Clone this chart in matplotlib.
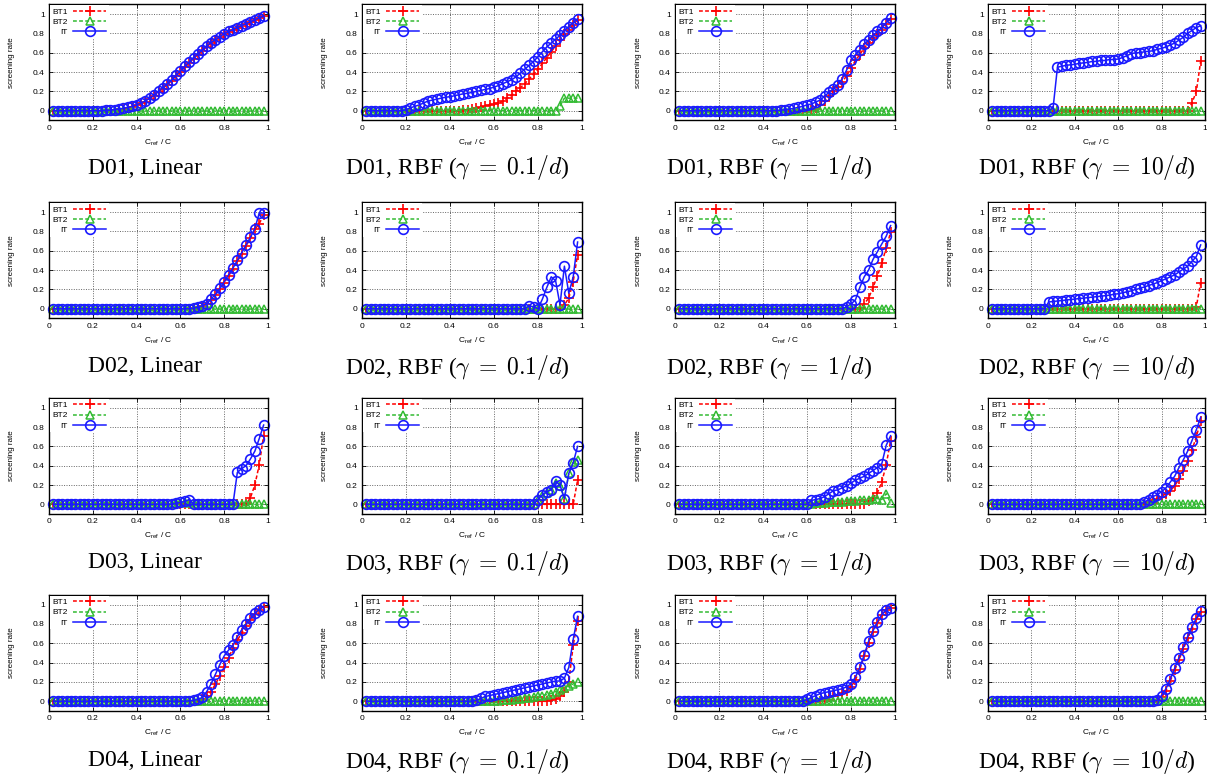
import numpy as np
import matplotlib
matplotlib.use("Agg")
from matplotlib import pyplot as plt

# C_ref / C sample points
c_ratio = [0.02, 0.04, 0.06, 0.08, 0.10, 0.12, 0.14, 0.16, 0.18, 0.20,
           0.22, 0.24, 0.26, 0.28, 0.30, 0.32, 0.34, 0.36, 0.38, 0.40,
           0.42, 0.44, 0.46, 0.48, 0.50, 0.52, 0.54, 0.56, 0.58, 0.60,
           0.62, 0.64, 0.66, 0.68, 0.70, 0.72, 0.74, 0.76, 0.78, 0.80,
           0.82, 0.84, 0.86, 0.88, 0.90, 0.92, 0.94, 0.96, 0.98]

datasets = ["D01", "D02", "D03", "D04"]
kernels = ["Linear", r"RBF ($\gamma\;=\;0.1/d$)", r"RBF ($\gamma\;=\;1/d$)", r"RBF ($\gamma\;=\;10/d$)"]
methods = ["BT1", "BT2", "IT"]

# screening rates: only the tail up to x=0.98 is listed, earlier points are 0
d01_lin_bt1 = [0.002, 0.005, 0.01, 0.015, 0.022, 0.03, 0.04, 0.055, 0.075, 0.095, 0.125, 0.155, 0.19,
               0.23, 0.27, 0.31, 0.36, 0.40, 0.45, 0.49, 0.54, 0.58, 0.62, 0.66, 0.70, 0.73, 0.76,
               0.79, 0.815, 0.835, 0.855, 0.875, 0.895, 0.915, 0.935, 0.955, 0.975]
d01_lin_bt2 = []
d01_lin_it = [0.003, 0.007, 0.012, 0.018, 0.025, 0.035, 0.045, 0.06, 0.08, 0.10, 0.13, 0.16, 0.20,
              0.24, 0.28, 0.32, 0.37, 0.41, 0.46, 0.50, 0.55, 0.59, 0.63, 0.67, 0.705, 0.735, 0.765,
              0.795, 0.82, 0.84, 0.86, 0.88, 0.90, 0.92, 0.94, 0.96, 0.98]

d01_rbf01_bt1 = [0.005, 0.01, 0.02, 0.025, 0.035, 0.045, 0.06, 0.07, 0.08, 0.10, 0.13, 0.16, 0.20, 0.24,
                 0.28, 0.33, 0.38, 0.43, 0.49, 0.55, 0.61, 0.67, 0.73, 0.79, 0.84, 0.89, 0.94]
d01_rbf01_bt2 = [0.0, 0.05, 0.13, 0.13, 0.13, 0.13]
d01_rbf01_it = [0.0, 0.01, 0.03, 0.045, 0.06, 0.08, 0.10, 0.11, 0.12, 0.13, 0.14, 0.145, 0.155, 0.165,
                0.175, 0.18, 0.19, 0.20, 0.21, 0.22, 0.23, 0.245, 0.26, 0.28, 0.30, 0.32, 0.35, 0.39,
                0.43, 0.47, 0.51, 0.56, 0.61, 0.66, 0.70, 0.74, 0.78, 0.83, 0.87, 0.91, 0.95]

d01_rbf1_bt1 = [0.0, 0.005, 0.012, 0.03, 0.06, 0.10, 0.15, 0.20, 0.25, 0.30, 0.36, 0.44, 0.52, 0.58,
                0.65, 0.70, 0.75, 0.79, 0.84, 0.90, 0.95]
d01_rbf1_bt2 = []
d01_rbf1_it = [0.002, 0.006, 0.01, 0.016, 0.025, 0.035, 0.045, 0.06, 0.07, 0.09, 0.11, 0.15, 0.19, 0.23,
               0.27, 0.33, 0.42, 0.52, 0.58, 0.63, 0.69, 0.73, 0.78, 0.82, 0.86, 0.91, 0.96]

d01_rbf10_bt1 = [0.0, 0.08, 0.2, 0.51]
d01_rbf10_bt2 = []
d01_rbf10_it = [0.0, 0.03, 0.45, 0.46, 0.47, 0.475, 0.48, 0.49, 0.495, 0.50, 0.51, 0.51, 0.52, 0.52,
                0.53, 0.53, 0.535, 0.55, 0.57, 0.59, 0.60, 0.60, 0.61, 0.615, 0.62, 0.635, 0.645, 0.66,
                0.68, 0.70, 0.73, 0.76, 0.80, 0.83, 0.86, 0.88]

d02_lin_bt1 = [0.0, 0.005, 0.015, 0.03, 0.05, 0.09, 0.14, 0.20, 0.27, 0.34, 0.41, 0.49, 0.57, 0.65,
               0.73, 0.82, 0.88, 0.97]
d02_lin_bt2 = []
d02_lin_it = [0.0, 0.005, 0.015, 0.03, 0.05, 0.10, 0.15, 0.21, 0.28, 0.35, 0.42, 0.50, 0.58, 0.66,
              0.74, 0.83, 0.99, 0.99]

d02_rbf01_bt1 = [0.0, 0.04, 0.11, 0.28, 0.56]
d02_rbf01_bt2 = []
d02_rbf01_it = [0.0, 0.03, 0.02, 0.0, 0.10, 0.22, 0.33, 0.29, 0.04, 0.44, 0.16, 0.33, 0.69]

d02_rbf1_bt1 = [0.0, 0.01, 0.05, 0.11, 0.22, 0.34, 0.47, 0.63, 0.79]
d02_rbf1_bt2 = []
d02_rbf1_it = [0.0, 0.02, 0.05, 0.09, 0.22, 0.33, 0.40, 0.51, 0.59, 0.67, 0.75, 0.86]

d02_rbf10_bt1 = [0.0, 0.02, 0.27]
d02_rbf10_bt2 = []
d02_rbf10_it = [0.0, 0.07, 0.075, 0.08, 0.085, 0.09, 0.095, 0.10, 0.105, 0.11, 0.115, 0.12, 0.125,
                0.13, 0.135, 0.14, 0.15, 0.155, 0.165, 0.175, 0.185, 0.20, 0.21, 0.225, 0.24, 0.255,
                0.27, 0.29, 0.31, 0.33, 0.35, 0.38, 0.41, 0.44, 0.49, 0.54, 0.66]

d03_lin_bt1 = [0.0, 0.07, 0.20, 0.41, 0.71]
d03_lin_bt2 = [0.0, 0.01, 0.015, 0.02, 0.01, 0.0, 0.0, 0.0, 0.0, 0.0, 0.0, 0.0, 0.0, 0.0, 0.0,
               0.0, 0.0, 0.0, 0.0, 0.0, 0.0, 0.0]
d03_lin_it = [0.0, 0.01, 0.02, 0.03, 0.05, 0.0, 0.0, 0.0, 0.0, 0.0, 0.0, 0.0, 0.0, 0.0, 0.0,
              0.33, 0.37, 0.40, 0.47, 0.55, 0.68, 0.82]

d03_rbf01_bt1 = [0.0, 0.25]
d03_rbf01_bt2 = [0.0, 0.04, 0.09, 0.12, 0.15, 0.22, 0.19, 0.06, 0.32, 0.44, 0.46]
d03_rbf01_it = [0.0, 0.05, 0.10, 0.13, 0.15, 0.24, 0.20, 0.06, 0.32, 0.43, 0.60]

d03_rbf1_bt1 = [0.0, 0.03, 0.07, 0.12, 0.23, 0.41, 0.66]
d03_rbf1_bt2 = [0.005, 0.01, 0.01, 0.015, 0.02, 0.02, 0.02, 0.025, 0.03, 0.03, 0.035, 0.04, 0.04,
                0.05, 0.055, 0.06, 0.05, 0.11, 0.01]
d03_rbf1_it = [0.0, 0.04, 0.05, 0.06, 0.08, 0.11, 0.14, 0.15, 0.17, 0.19, 0.22, 0.25, 0.27, 0.29,
               0.32, 0.35, 0.38, 0.42, 0.61, 0.71]

d03_rbf10_bt1 = [0.0, 0.02, 0.04, 0.06, 0.08, 0.11, 0.14, 0.19, 0.26, 0.35, 0.45, 0.56, 0.70, 0.86]
d03_rbf10_bt2 = []
d03_rbf10_it = [0.0, 0.02, 0.05, 0.08, 0.10, 0.13, 0.17, 0.23, 0.29, 0.38, 0.46, 0.55, 0.66, 0.77, 0.90]

d04_lin_bt1 = [0.0, 0.02, 0.05, 0.10, 0.18, 0.26, 0.36, 0.45, 0.55, 0.63, 0.71, 0.78, 0.84, 0.90,
               0.95, 0.98]
d04_lin_bt2 = []
d04_lin_it = [0.0, 0.005, 0.01, 0.02, 0.04, 0.10, 0.18, 0.28, 0.38, 0.47, 0.53, 0.58, 0.67, 0.74,
              0.80, 0.86, 0.91, 0.95, 0.98]

d04_rbf01_bt1 = [0.0, 0.01, 0.02, 0.05, 0.10, 0.20, 0.58, 0.83]
d04_rbf01_bt2 = [0.0, 0.005, 0.01, 0.01, 0.015, 0.02, 0.025, 0.03, 0.035, 0.04, 0.05, 0.06, 0.07,
                 0.08, 0.10, 0.12, 0.14, 0.16, 0.18, 0.20]
d04_rbf01_it = [0.0, 0.01, 0.03, 0.05, 0.06, 0.07, 0.08, 0.09, 0.10, 0.11, 0.12, 0.13, 0.14, 0.15,
                0.16, 0.17, 0.18, 0.19, 0.20, 0.21, 0.21, 0.24, 0.35, 0.64, 0.88]

d04_rbf1_bt1 = [0.0, 0.02, 0.04, 0.05, 0.07, 0.09, 0.11, 0.15, 0.22, 0.33, 0.47, 0.60, 0.72, 0.81,
                0.89, 0.94, 0.97]
d04_rbf1_bt2 = []
d04_rbf1_it = [0.0, 0.02, 0.04, 0.06, 0.08, 0.09, 0.10, 0.11, 0.12, 0.13, 0.15, 0.18, 0.25, 0.35,
               0.48, 0.62, 0.73, 0.82, 0.90, 0.95, 0.97]

d04_rbf10_bt1 = [0.0, 0.04, 0.11, 0.21, 0.32, 0.43, 0.54, 0.65, 0.75, 0.85, 0.92]
d04_rbf10_bt2 = []
d04_rbf10_it = [0.0, 0.01, 0.06, 0.13, 0.23, 0.34, 0.45, 0.56, 0.67, 0.77, 0.86, 0.93]

panels = [
    [(d01_lin_bt1, d01_lin_bt2, d01_lin_it), (d01_rbf01_bt1, d01_rbf01_bt2, d01_rbf01_it),
     (d01_rbf1_bt1, d01_rbf1_bt2, d01_rbf1_it), (d01_rbf10_bt1, d01_rbf10_bt2, d01_rbf10_it)],
    [(d02_lin_bt1, d02_lin_bt2, d02_lin_it), (d02_rbf01_bt1, d02_rbf01_bt2, d02_rbf01_it),
     (d02_rbf1_bt1, d02_rbf1_bt2, d02_rbf1_it), (d02_rbf10_bt1, d02_rbf10_bt2, d02_rbf10_it)],
    [(d03_lin_bt1, d03_lin_bt2, d03_lin_it), (d03_rbf01_bt1, d03_rbf01_bt2, d03_rbf01_it),
     (d03_rbf1_bt1, d03_rbf1_bt2, d03_rbf1_it), (d03_rbf10_bt1, d03_rbf10_bt2, d03_rbf10_it)],
    [(d04_lin_bt1, d04_lin_bt2, d04_lin_it), (d04_rbf01_bt1, d04_rbf01_bt2, d04_rbf01_it),
     (d04_rbf1_bt1, d04_rbf1_bt2, d04_rbf1_it), (d04_rbf10_bt1, d04_rbf10_bt2, d04_rbf10_it)],
]

tick_vals = [0, 0.2, 0.4, 0.6, 0.8, 1]
tick_labels = ["0", "0.2", "0.4", "0.6", "0.8", "1"]


def full_series(tail, n):
    # leading points not listed are zero
    return np.concatenate([np.zeros(n - len(tail)), np.asarray(tail, dtype=float)])


plt.rcParams['font.family'] = ['Liberation Sans', 'DejaVu Sans']
plt.rcParams['mathtext.fontset'] = 'cm'

W, H = 1207, 780
fig = plt.figure(figsize=(W / 100, H / 100), dpi=100)

col_left = [49, 362, 675, 988]
col_width = [219, 220, 220, 217]
row_top = [4.4, 202.4, 398, 595]
ax_h = 116
cap_x = [145, 457, 769, 1087]
cap_y = [168, 367, 563, 761]

styles = [
    dict(color='#ff0000', ls=(0, (2.5, 1.5)), marker='+', ms=6.5, mew=1.2),
    dict(color='#33bb33', ls=(0, (2.5, 1.5)), marker='^', ms=5.5, mfc='none', mew=1.1),
    dict(color='#1a1aff', ls='-', marker='o', ms=7, mfc='none', mew=1.2),
]

n = len(c_ratio)
for r in range(4):
    for c in range(4):
        ax = fig.add_axes([col_left[c] / W, 1 - (row_top[r] + ax_h) / H,
                           col_width[c] / W, ax_h / H])
        for m, tail, st in zip(methods, panels[r][c], styles):
            ax.plot(c_ratio, full_series(tail, n), label=m, lw=1.1, clip_on=False, **st)
        ax.set_xlim(0, 1)
        ax.set_ylim(-0.1, 1.1)
        ax.set_xticks(tick_vals)
        ax.set_xticklabels(tick_labels)
        ax.set_yticks(tick_vals)
        ax.set_yticklabels(tick_labels)
        ax.tick_params(direction='in', length=3, width=0.6, labelsize=6, pad=3,
                       top=True, right=True)
        ax.grid(True, color='#666666', ls=(0, (1, 1.5)), lw=0.7)
        for sp in ax.spines.values():
            sp.set_linewidth(1.0)
        ax.set_xlabel(r"C$_\mathregular{ref}$ / C", fontsize=6)
        ax.xaxis.set_label_coords(0.5, -0.19)
        ax.xaxis.label.set_va('center')
        ax.set_ylabel("screening rate", fontsize=5.8)
        ax.yaxis.set_label_coords(-37 / col_width[c], 0.5)
        ax.yaxis.label.set_va('center')
        leg = ax.legend(loc='upper left', markerfirst=False, fontsize=6, handlelength=4.0,
                        handletextpad=0.6, labelspacing=0.3, borderpad=0.3, borderaxespad=0.1,
                        frameon=True, fancybox=False, framealpha=1)
        leg.get_frame().set_linewidth(0)
        leg.get_frame().set_facecolor('white')
        fig.text(cap_x[c] / W, 1 - cap_y[r] / H, f"{datasets[r]}, {kernels[c]}",
                 family='Liberation Serif', fontsize=17, ha='center', va='center')

fig.savefig("out.png", dpi=100)
